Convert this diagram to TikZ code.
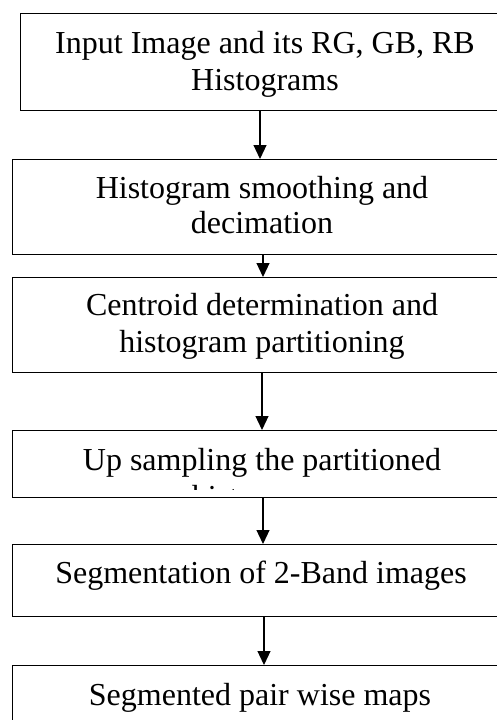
\documentclass[tikz,border=0pt]{standalone}
\usepackage{fontspec}
\setmainfont{Liberation Serif}
\usetikzlibrary{arrows.meta}
\begin{document}
\begin{tikzpicture}[x=1pt,y=-1pt,
  box/.style={draw,line width=1.2pt,rectangle,anchor=north west,inner sep=0pt},
  txt/.style={anchor=base,inner sep=0pt,font=\fontsize{32}{37}\selectfont},
  arr/.style={line width=1.2pt,-{Triangle[width=13pt,length=14pt]}}]
\useasboundingbox (0,0) rectangle (497,720);
\clip (0,0) rectangle (497,720);
% boxes
\node[box,minimum width=490pt,minimum height=97pt] (b1) at (20,13) {};
\node[box,minimum width=498pt,minimum height=95pt] (b2) at (12,159) {};
\node[box,minimum width=498pt,minimum height=95pt] (b3) at (12,277) {};
\node[box,minimum width=498pt,minimum height=67pt] (b4) at (12,430) {};
\node[box,minimum width=498pt,minimum height=72pt] (b5) at (12,544) {};
\node[box,minimum width=498pt,minimum height=80pt] (b6) at (12,665) {};
% texts
\node[txt] (t1a) at (265,53) {Input Image and its RG, GB, RB};
\node[txt] (t1b) at (265,90) {Histograms};
\node[txt] (t2a) at (262,198) {Histogram smoothing and};
\node[txt] (t2b) at (262,233) {decimation};
\node[txt] (t3a) at (262,315) {Centroid determination and};
\node[txt] (t3b) at (262,352) {histogram partitioning};
\node[txt] (t4a) at (262,470) {Up sampling the partitioned};
\begin{scope}
\clip (12,430) rectangle (497,489);
\node[txt] (t4b) at (262,507) {histograms};
\end{scope}
\node[txt] (t5) at (261,583) {Segmentation of 2-Band images};
\node[txt] (t6) at (260,705) {Segmented pair wise maps};
% arrows
\coordinate (x1) at (260,0);
\coordinate (x2) at (263,0);
\coordinate (x3) at (262,0);
\coordinate (x4) at (263,0);
\coordinate (x5) at (264,0);
\draw[arr] (x1 |- b1.south) -- (x1 |- b2.north);
\draw[arr] (x2 |- b2.south) -- (x2 |- b3.north);
\draw[arr] (x3 |- b3.south) -- (x3 |- b4.north);
\draw[arr] (x4 |- b4.south) -- (x4 |- b5.north);
\draw[arr] (x5 |- b5.south) -- (x5 |- b6.north);
\end{tikzpicture}
\end{document}
